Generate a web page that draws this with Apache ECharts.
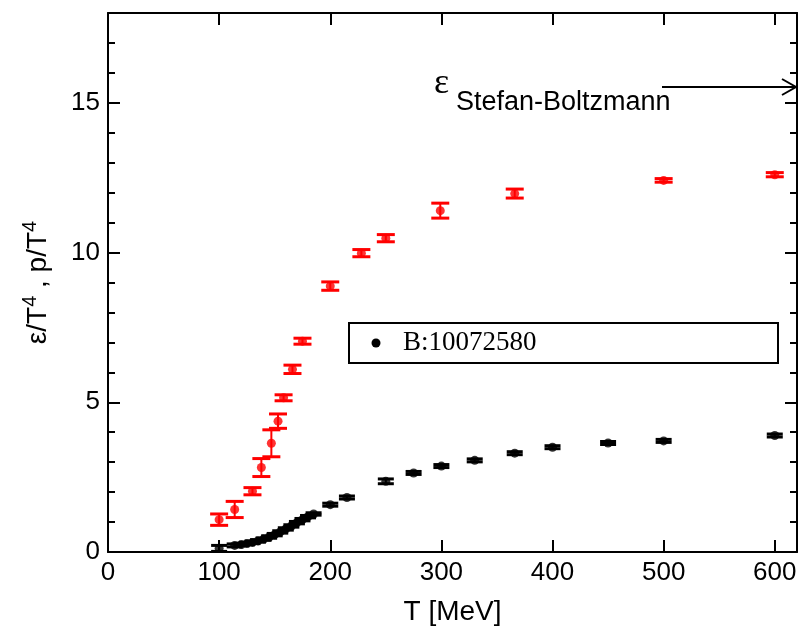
<!DOCTYPE html>
<html>
<head>
<meta charset="utf-8">
<script src="https://cdn.jsdelivr.net/npm/echarts@6/dist/echarts.min.js"></script>
<style>
html,body{margin:0;padding:0;background:#fff;}
#chart{width:802px;height:631px;}
</style>
</head>
<body>
<div id="chart"></div>
<script>
// Energy density e/T^4 (red) with errors
const redT   = [100, 114, 130, 138, 147, 153, 158, 166, 175, 200, 228, 250, 299, 366, 500, 600];
const redE   = [1.08, 1.42, 2.03, 2.82, 3.63, 4.37, 5.15, 6.10, 7.04, 8.88, 9.98, 10.48, 11.40, 11.97, 12.41, 12.60];
const redErr = [0.19, 0.27, 0.12, 0.30, 0.45, 0.24, 0.10, 0.14, 0.10, 0.14, 0.12, 0.12, 0.25, 0.15, 0.06, 0.07];
// Pressure p/T^4 (black) with errors
const blackT   = [100, 114, 120, 125, 130, 135, 140, 145, 150, 155, 160, 165, 170, 175, 180, 185, 200, 215, 250, 275, 300, 330, 366, 400, 450, 500, 600];
const blackP   = [0.12, 0.22, 0.25, 0.28, 0.32, 0.37, 0.43, 0.50, 0.58, 0.67, 0.77, 0.87, 0.98, 1.08, 1.18, 1.27, 1.58, 1.82, 2.36, 2.64, 2.87, 3.06, 3.30, 3.50, 3.64, 3.71, 3.89];
const blackErr = [0.10, 0.05, 0.04, 0.04, 0.04, 0.04, 0.04, 0.04, 0.04, 0.04, 0.04, 0.04, 0.04, 0.04, 0.04, 0.04, 0.05, 0.05, 0.08, 0.05, 0.05, 0.05, 0.05, 0.05, 0.05, 0.05, 0.05];
// Axis ticks
const xMin = 0, xMax = 620, xStep = 100;
const yMin = 0, yMax = 18, yStep = 5;
const legendLabel = 'B:10072580';
const sbLabel = 'Stefan-Boltzmann';

const redData = redT.map((t, i) => [t, redE[i], redErr[i]]);
const blackData = blackT.map((t, i) => [t, blackP[i], blackErr[i]]);

function errRender(color, cap) {
  return function (params, api) {
    const x = api.value(0), y = api.value(1), e = api.value(2);
    const hi = api.coord([x, y + e]);
    const lo = api.coord([x, y - e]);
    return {
      type: 'group',
      children: [
        {type: 'line', shape: {x1: hi[0], y1: hi[1], x2: lo[0], y2: lo[1]}, style: {stroke: color, lineWidth: 2}},
        {type: 'line', shape: {x1: hi[0] - cap, y1: hi[1], x2: hi[0] + cap, y2: hi[1]}, style: {stroke: color, lineWidth: 3}},
        {type: 'line', shape: {x1: lo[0] - cap, y1: lo[1], x2: lo[0] + cap, y2: lo[1]}, style: {stroke: color, lineWidth: 3}}
      ]
    };
  };
}

const font = '"Liberation Sans", Arial, sans-serif';
const axisLine = {show: true, onZero: false, lineStyle: {color: '#000', width: 2}};

function xAx(pos, labels) {
  return {
    type: 'value', position: pos, min: xMin, max: xMax, interval: xStep,
    axisLine: axisLine,
    axisTick: {show: true, inside: true, length: 12, lineStyle: {color: '#000', width: 2}},
    axisLabel: {show: labels, color: '#000', fontFamily: font, fontSize: 26, margin: 8, showMaxLabel: false},
    splitLine: {show: false},
    name: labels ? 'T [MeV]' : '', nameLocation: 'middle', nameGap: 46,
    nameTextStyle: {color: '#000', fontFamily: font, fontSize: 28}
  };
}
function yAx(pos, labels) {
  return {
    type: 'value', position: pos, min: yMin, max: yMax, interval: yStep,
    axisLine: axisLine,
    axisTick: {show: true, inside: true, length: 12, lineStyle: {color: '#000', width: 2}},
    minorTick: {show: true, splitNumber: 5, length: 7, lineStyle: {color: '#000', width: 2}},
    axisLabel: {show: labels, color: '#000', fontFamily: font, fontSize: 26, margin: 8, showMaxLabel: false},
    splitLine: {show: false},
    name: labels ? '{a|ε/T}{s|4}{a| , p/T}{s|4}' : '',
    nameLocation: 'middle', nameGap: 56, nameRotate: 90,
    nameTextStyle: {
      color: '#000', fontFamily: font, fontSize: 28,
      rich: {
        a: {fontFamily: font, fontSize: 28, color: '#000', lineHeight: 32, verticalAlign: 'bottom'},
        s: {fontFamily: font, fontSize: 20, color: '#000', lineHeight: 32, verticalAlign: 'top'}
      }
    }
  };
}

const chart = echarts.init(document.getElementById('chart'), null, {renderer: 'canvas'});
chart.setOption({
  animation: false,
  backgroundColor: '#fff',
  grid: {left: 108, right: 5, top: 13, bottom: 76, containLabel: false},
  xAxis: [xAx('bottom', true), xAx('top', false)],
  yAxis: [yAx('left', true), yAx('right', false)],
  series: [
    {type: 'custom', renderItem: errRender('#ff0000', 9), data: redData, encode: {x: 0, y: 1}, z: 2},
    {type: 'scatter', data: redData.map(d => [d[0], d[1]]), symbol: 'circle', symbolSize: 9, itemStyle: {color: '#ff0000'}, z: 3},
    {type: 'custom', renderItem: errRender('#000', 8), data: blackData, encode: {x: 0, y: 1}, z: 2},
    {type: 'scatter', data: blackData.map(d => [d[0], d[1]]), symbol: 'circle', symbolSize: 9, itemStyle: {color: '#000'}, z: 3}
  ],
  graphic: [
    {type: 'rect', shape: {x: 349, y: 323, width: 429, height: 40}, style: {fill: '#fff', stroke: '#000', lineWidth: 2}, z: 10},
    {type: 'circle', shape: {cx: 376, cy: 343, r: 4.5}, style: {fill: '#000'}, z: 11},
    {type: 'text', x: 403, y: 343, style: {text: legendLabel, fill: '#000', font: '27px "Liberation Serif", "Times New Roman", serif', verticalAlign: 'middle'}, z: 11},
    {type: 'text', x: 434, y: 102, style: {text: 'ε', fill: '#000', font: '36px "Liberation Serif", serif', verticalAlign: 'bottom'}, z: 11},
    {type: 'text', x: 456, y: 116, style: {text: sbLabel, fill: '#000', font: '27px "Liberation Sans", Arial, sans-serif', verticalAlign: 'bottom'}, z: 11},
    {type: 'line', shape: {x1: 662, y1: 87, x2: 796, y2: 87}, style: {stroke: '#000', lineWidth: 2}, z: 11},
    {type: 'polyline', shape: {points: [[782, 79], [796, 87], [782, 95]]}, style: {stroke: '#000', lineWidth: 2, fill: null}, z: 11}
  ]
});
</script>
</body>
</html>
